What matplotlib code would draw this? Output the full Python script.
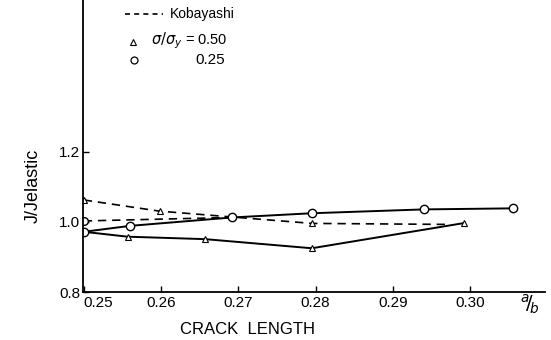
import numpy as np
import matplotlib.pyplot as plt
from matplotlib.lines import Line2D

plt.rcParams['font.family'] = ['Liberation Sans', 'DejaVu Sans']
plt.rcParams['mathtext.fontset'] = 'dejavusans'

# FEM results, sigma/sigma_y = 0.25 (circles, solid)
fem25_x = [0.250, 0.2560, 0.2692, 0.2795, 0.2940, 0.3055]
fem25_y = [0.972, 0.989, 1.013, 1.025, 1.036, 1.039]

# FEM results, sigma/sigma_y = 0.50 (triangles, solid)
fem50_x = [0.250, 0.2557, 0.2657, 0.2795, 0.2992]
fem50_y = [0.972, 0.958, 0.951, 0.925, 0.997]

# Kobayashi, sigma/sigma_y = 0.50 (dashed)
kob50_x = [0.250, 0.2598, 0.2795, 0.2975]
kob50_y = [1.063, 1.031, 0.996, 0.993]

# Kobayashi, sigma/sigma_y = 0.25 (dashed)
kob25_x = [0.250, 0.2692]
kob25_y = [1.003, 1.013]

xticks = [0.25, 0.26, 0.27, 0.28, 0.29, 0.30]
xticklabels = ['0.25', '0.26', '0.27', '0.28', '0.29', '0.30']
yticks = [0.8, 1.0, 1.2]
yticklabels = ['0.8', '1.0', '1.2']

fig = plt.figure(figsize=(5.51, 3.40), dpi=100)
ax = fig.add_axes([83 / 551, 1 - 292 / 340, 462 / 551, 292 / 340])

dash = (0, (5, 3.5))
ax.plot(kob50_x, kob50_y, color='black', lw=1.2, linestyle=dash,
        marker='^', ms=4, mfc='white', mec='black', mew=0.8,
        markevery=[0, 1, 2])
ax.plot(kob25_x, kob25_y, color='black', lw=1.2, linestyle=dash,
        marker='o', ms=5.5, mfc='white', mec='black', mew=1.0, markevery=[0])
ax.plot(fem50_x, fem50_y, color='black', lw=1.4,
        marker='^', ms=4.5, mfc='white', mec='black', mew=0.8,
        markevery=[1, 2, 3, 4])
ax.plot(fem25_x, fem25_y, color='black', lw=1.4,
        marker='o', ms=6, mfc='white', mec='black', mew=1.0)

ax.set_xlim(0.2499, 0.2499 + 462 / 7730)
ax.set_ylim(0.8, 0.8 + 292 / 350)

ax.set_xticks(xticks)
ax.set_xticklabels(xticklabels, fontsize=11)
ax.get_xticklabels()[0].set_ha('left')
ax.set_yticks(yticks)
ax.set_yticklabels(yticklabels, fontsize=11)
ax.tick_params(axis='both', direction='in', length=4, width=1.0, pad=3)
ax.tick_params(axis='y', pad=2)

for s in ['top', 'right']:
    ax.spines[s].set_visible(False)
for s in ['left', 'bottom']:
    ax.spines[s].set_linewidth(1.3)

# axis titles
fig.text(247 / 551, 1 - 329 / 340, 'CRACK  LENGTH', fontsize=12,
         ha='center', va='center')
fig.text(530 / 551, 1 - 304 / 340, r'$^{a}\!/\!_{b}$', fontsize=14,
         ha='center', va='center')
fig.text(33 / 551, 1 - 186 / 340, 'J/Jelastic', fontsize=13,
         rotation=90, ha='center', va='center')

# legend drawn by hand
def px(x, y):
    return x / 551, 1 - y / 340

fig.add_artist(Line2D([125 / 551, 163 / 551], [1 - 14 / 340] * 2,
                      color='black', lw=1.2, linestyle=(0, (3, 2.5))))
fig.text(*px(170, 14), 'Kobayashi', fontsize=10, ha='left', va='center')
fig.add_artist(Line2D([133 / 551], [1 - 42 / 340], marker='^', ms=4.5,
                      mfc='white', mec='black', mew=0.8, linestyle='none'))
fig.text(*px(151, 41), r'$\sigma/\sigma_y$ = 0.50', fontsize=10.5,
         ha='left', va='center')
fig.add_artist(Line2D([134 / 551], [1 - 60 / 340], marker='o', ms=5,
                      mfc='white', mec='black', mew=0.9, linestyle='none'))
fig.text(*px(195, 60), '0.25', fontsize=11, ha='left', va='center')

fig.savefig('out.png', dpi=100, facecolor='white')
